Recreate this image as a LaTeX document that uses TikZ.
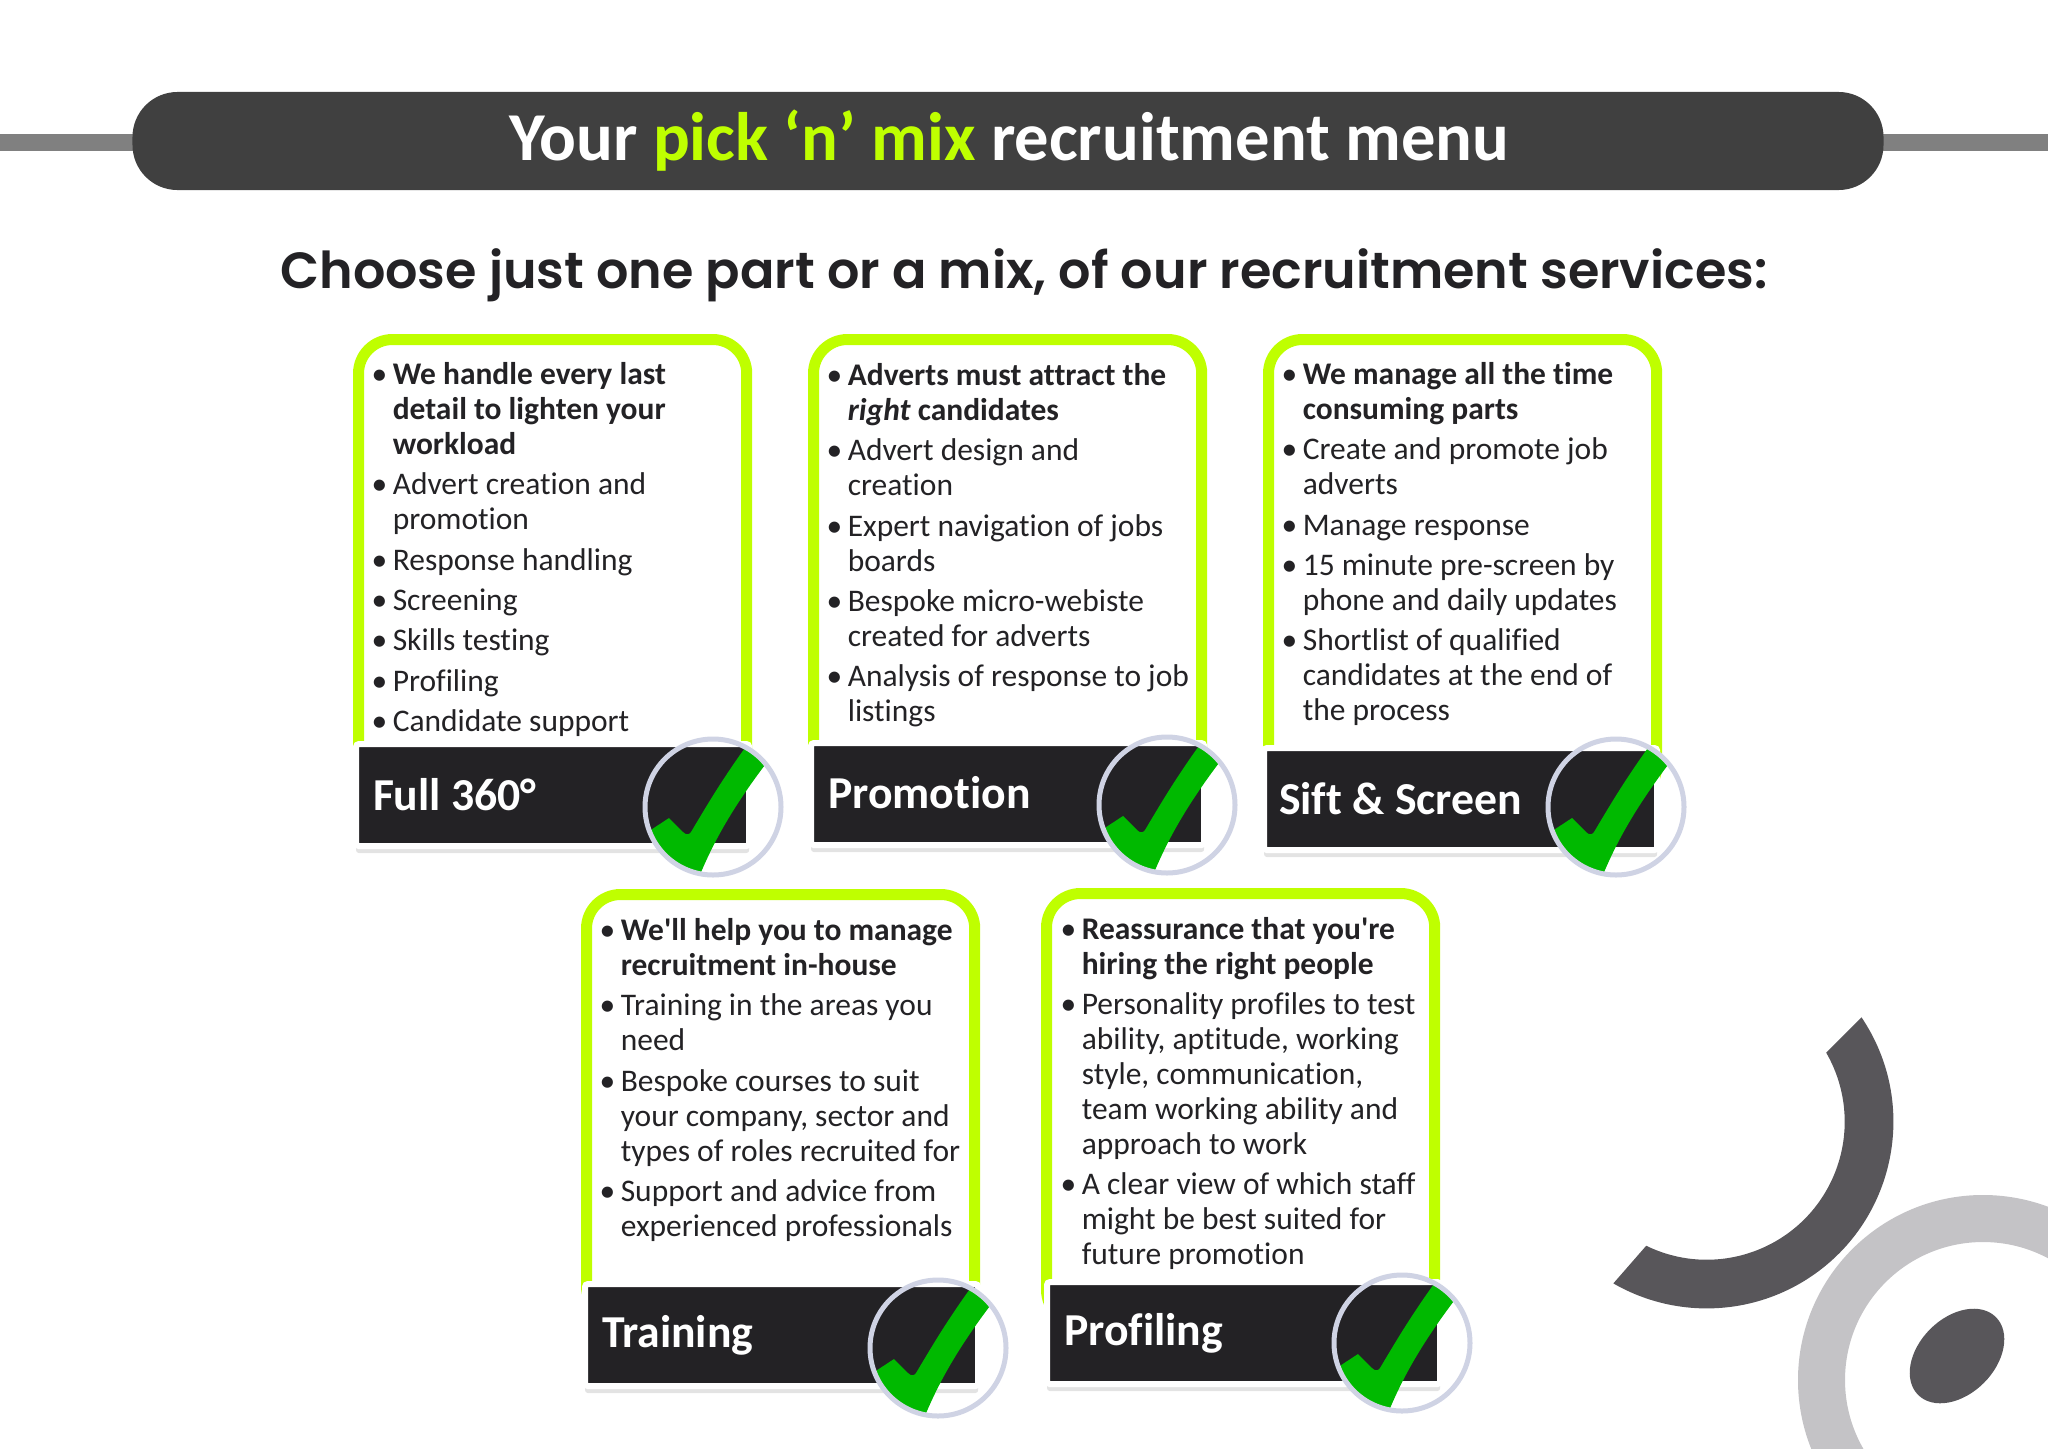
\documentclass[tikz,border=0pt]{standalone}
\usepackage{fontspec}
\setmainfont[Ligatures=NoCommon]{Carlito}
\newfontfamily\headfont{Poppins}[BoldFont={Poppins SemiBold}]
\usetikzlibrary{shadows, calc}

\definecolor{limegreen}{HTML}{BFFF00}
\definecolor{pilldark}{HTML}{404040}
\definecolor{bargray}{HTML}{808080}
\definecolor{inkdark}{HTML}{232225}
\definecolor{tickgreen}{HTML}{00B900}
\definecolor{ringblue}{HTML}{CFD3E4}
\definecolor{decodark}{HTML}{58565A}
\definecolor{decolight}{HTML}{C4C3C6}

% one bullet line of a card
\newcommand{\bul}[1]{\par\hangindent=6pt\hangafter=1\noindent\makebox[6pt][l]{\textbullet}#1\par\vspace{1.55pt}}

\tikzset{
    plainspaces/.style={execute at begin node={\spaceskip=0pt\xspaceskip=0pt}},
    cardbox/.style={draw=limegreen, line width=0.11cm, rounded corners=0.34cm, fill=white,
        anchor=north west, inner sep=0pt, outer sep=0pt, minimum width=3.88cm, minimum height=4.6cm},
    cardtext/.style={plainspaces, anchor=north west, inner sep=0pt, text width=3.85cm, text=inkdark,
        font=\fontsize{8.95}{9.93}\selectfont},
    bannerbox/.style={plainspaces, draw=white, line width=0.06cm, fill=inkdark, rounded corners=0.03cm, anchor=north west,
        text=white, font=\fontsize{13}{14}\selectfont\bfseries, inner sep=0pt, outer sep=0pt,
        minimum width=3.93cm, minimum height=1.02cm, text width=3.93cm,
        drop shadow={opacity=0.22, shadow xshift=0pt, shadow yshift=-2pt}},
    tickmark/.pic={
        \begin{scope}
            \clip (0,0) circle (66);
            \fill[tickgreen] (58,-50) .. controls (17,3) and (-2,40) .. (-16,75) -- (-60,70) -- (-76,32)
                -- (-44,11) -- (-30,25) .. controls (-27,28) and (-24,28) .. (-22,25)
                .. controls (-10,5) and (10,-30) .. (40,-70) -- cycle;
        \end{scope}
        \draw[ringblue, line width=0.05cm] (0,0) circle (68);
    }
}

\begin{document}
\begin{tikzpicture}[x=0.01cm, y=-0.01cm]
    \useasboundingbox (0,0) rectangle (2048,1448);

    % side bars and title
    \fill[bargray] (0,134) rectangle (2048,151);
    \node[fill=pilldark, rounded corners=0.45cm, minimum width=17.5cm, minimum height=0.98cm, inner sep=0pt,
        text=white, font=\fontsize{19.5}{22}\selectfont\bfseries] (title) at (1008,141)
        {\hspace{0.03cm}Your \textcolor{limegreen}{pick ‘n’ mix} recruitment menu};
    \node[text=inkdark, inner sep=0pt, font=\headfont\fontsize{14.46}{18}\selectfont\bfseries] (subtitle) at (1024,275)
        {Choose just one part or a mix, of our recruitment services:};

    % background shapes
    \draw[decolight, line width=0.47cm] (1983,1380) circle (161.5);
    \fill[decodark] ($(1706.7,1121.7)+(-34:186.7)$) arc (-34:120:186.7)
        -- ($(1706.7,1121.7)+(116:138)$) arc (116:-30:138) -- cycle;
    \fill[decodark, rotate around={45:(1957,1356)}] (1957,1356) ellipse (55 and 38);

    % top row
    \node[cardbox] (fullcard) at (358.5,339.5) {};
    \node[cardtext] (fulltext) at (371,349) {%
        \bul{\textbf{We handle every last\newline detail to lighten your\newline workload}}
        \bul{Advert creation and\newline promotion}
        \bul{Response handling}
        \bul{Screening}
        \bul{Skills testing}
        \bul{Profiling}
        \bul{Candidate support}};
    \node[bannerbox] (fullban) at (356,744) {\hspace{0.17cm}Full 360°};
    \pic at (713,807) {tickmark};

    \node[cardbox] (promocard) at (813.5,339.5) {};
    \node[cardtext] (promotext) at (826,350) {%
        \bul{\textbf{Adverts must attract the\newline\textit{right} candidates}}
        \bul{Advert design and\newline creation}
        \bul{Expert navigation of jobs\newline boards}
        \bul{Bespoke micro-webiste\newline created for adverts}
        \bul{Analysis of response to job\newline listings}};
    \node[bannerbox] (promoban) at (811,743) {\hspace{0.17cm}\raisebox{0.025cm}{Promotion}};
    \pic at (1167,805) {tickmark};

    \node[cardbox] (siftcard) at (1268.5,339.5) {};
    \node[cardtext] (sifttext) at (1281,349) {%
        \bul{\textbf{We manage all the time\newline consuming parts}}
        \bul{Create and promote job\newline adverts}
        \bul{Manage response}
        \bul{15 minute pre-screen by\newline phone and daily updates}
        \bul{Shortlist of qualified\newline candidates at the end of\newline the process}};
    \node[bannerbox] (siftban) at (1264,748) {\hspace{0.15cm}Sift \& Screen};
    \pic at (1616,807) {tickmark};

    % bottom row
    \node[cardbox, minimum height=4.25cm] (traincard) at (586.5,894.5) {};
    \node[cardtext] (traintext) at (599,905) {%
        \bul{\textbf{We\textquotesingle ll help you to manage\newline recruitment in-house}}
        \bul{Training in the areas you\newline need}
        \bul{Bespoke courses to suit\newline your company, sector and\newline types of roles recruited for}
        \bul{Support and advice from\newline experienced professionals}};
    \node[bannerbox] (trainban) at (585,1284) {\hspace{0.17cm}\raisebox{-0.025cm}{Training}};
    \pic at (938,1348) {tickmark};

    \node[cardbox, minimum height=4.3cm] (profcard) at (1046.5,893.5) {};
    \node[cardtext] (proftext) at (1060,904) {%
        \bul{\textbf{Reassurance that you\textquotesingle re\newline hiring the right people}}
        \bul{Personality profiles to test\newline ability, aptitude, working\newline style, communication,\newline team working ability and\newline approach to work}
        \bul{A clear view of which staff\newline might be best suited for\newline future promotion}};
    \node[bannerbox] (profban) at (1047,1282) {\hspace{0.17cm}\raisebox{-0.04cm}{Profiling}};
    \pic at (1402,1343) {tickmark};
\end{tikzpicture}
\end{document}
